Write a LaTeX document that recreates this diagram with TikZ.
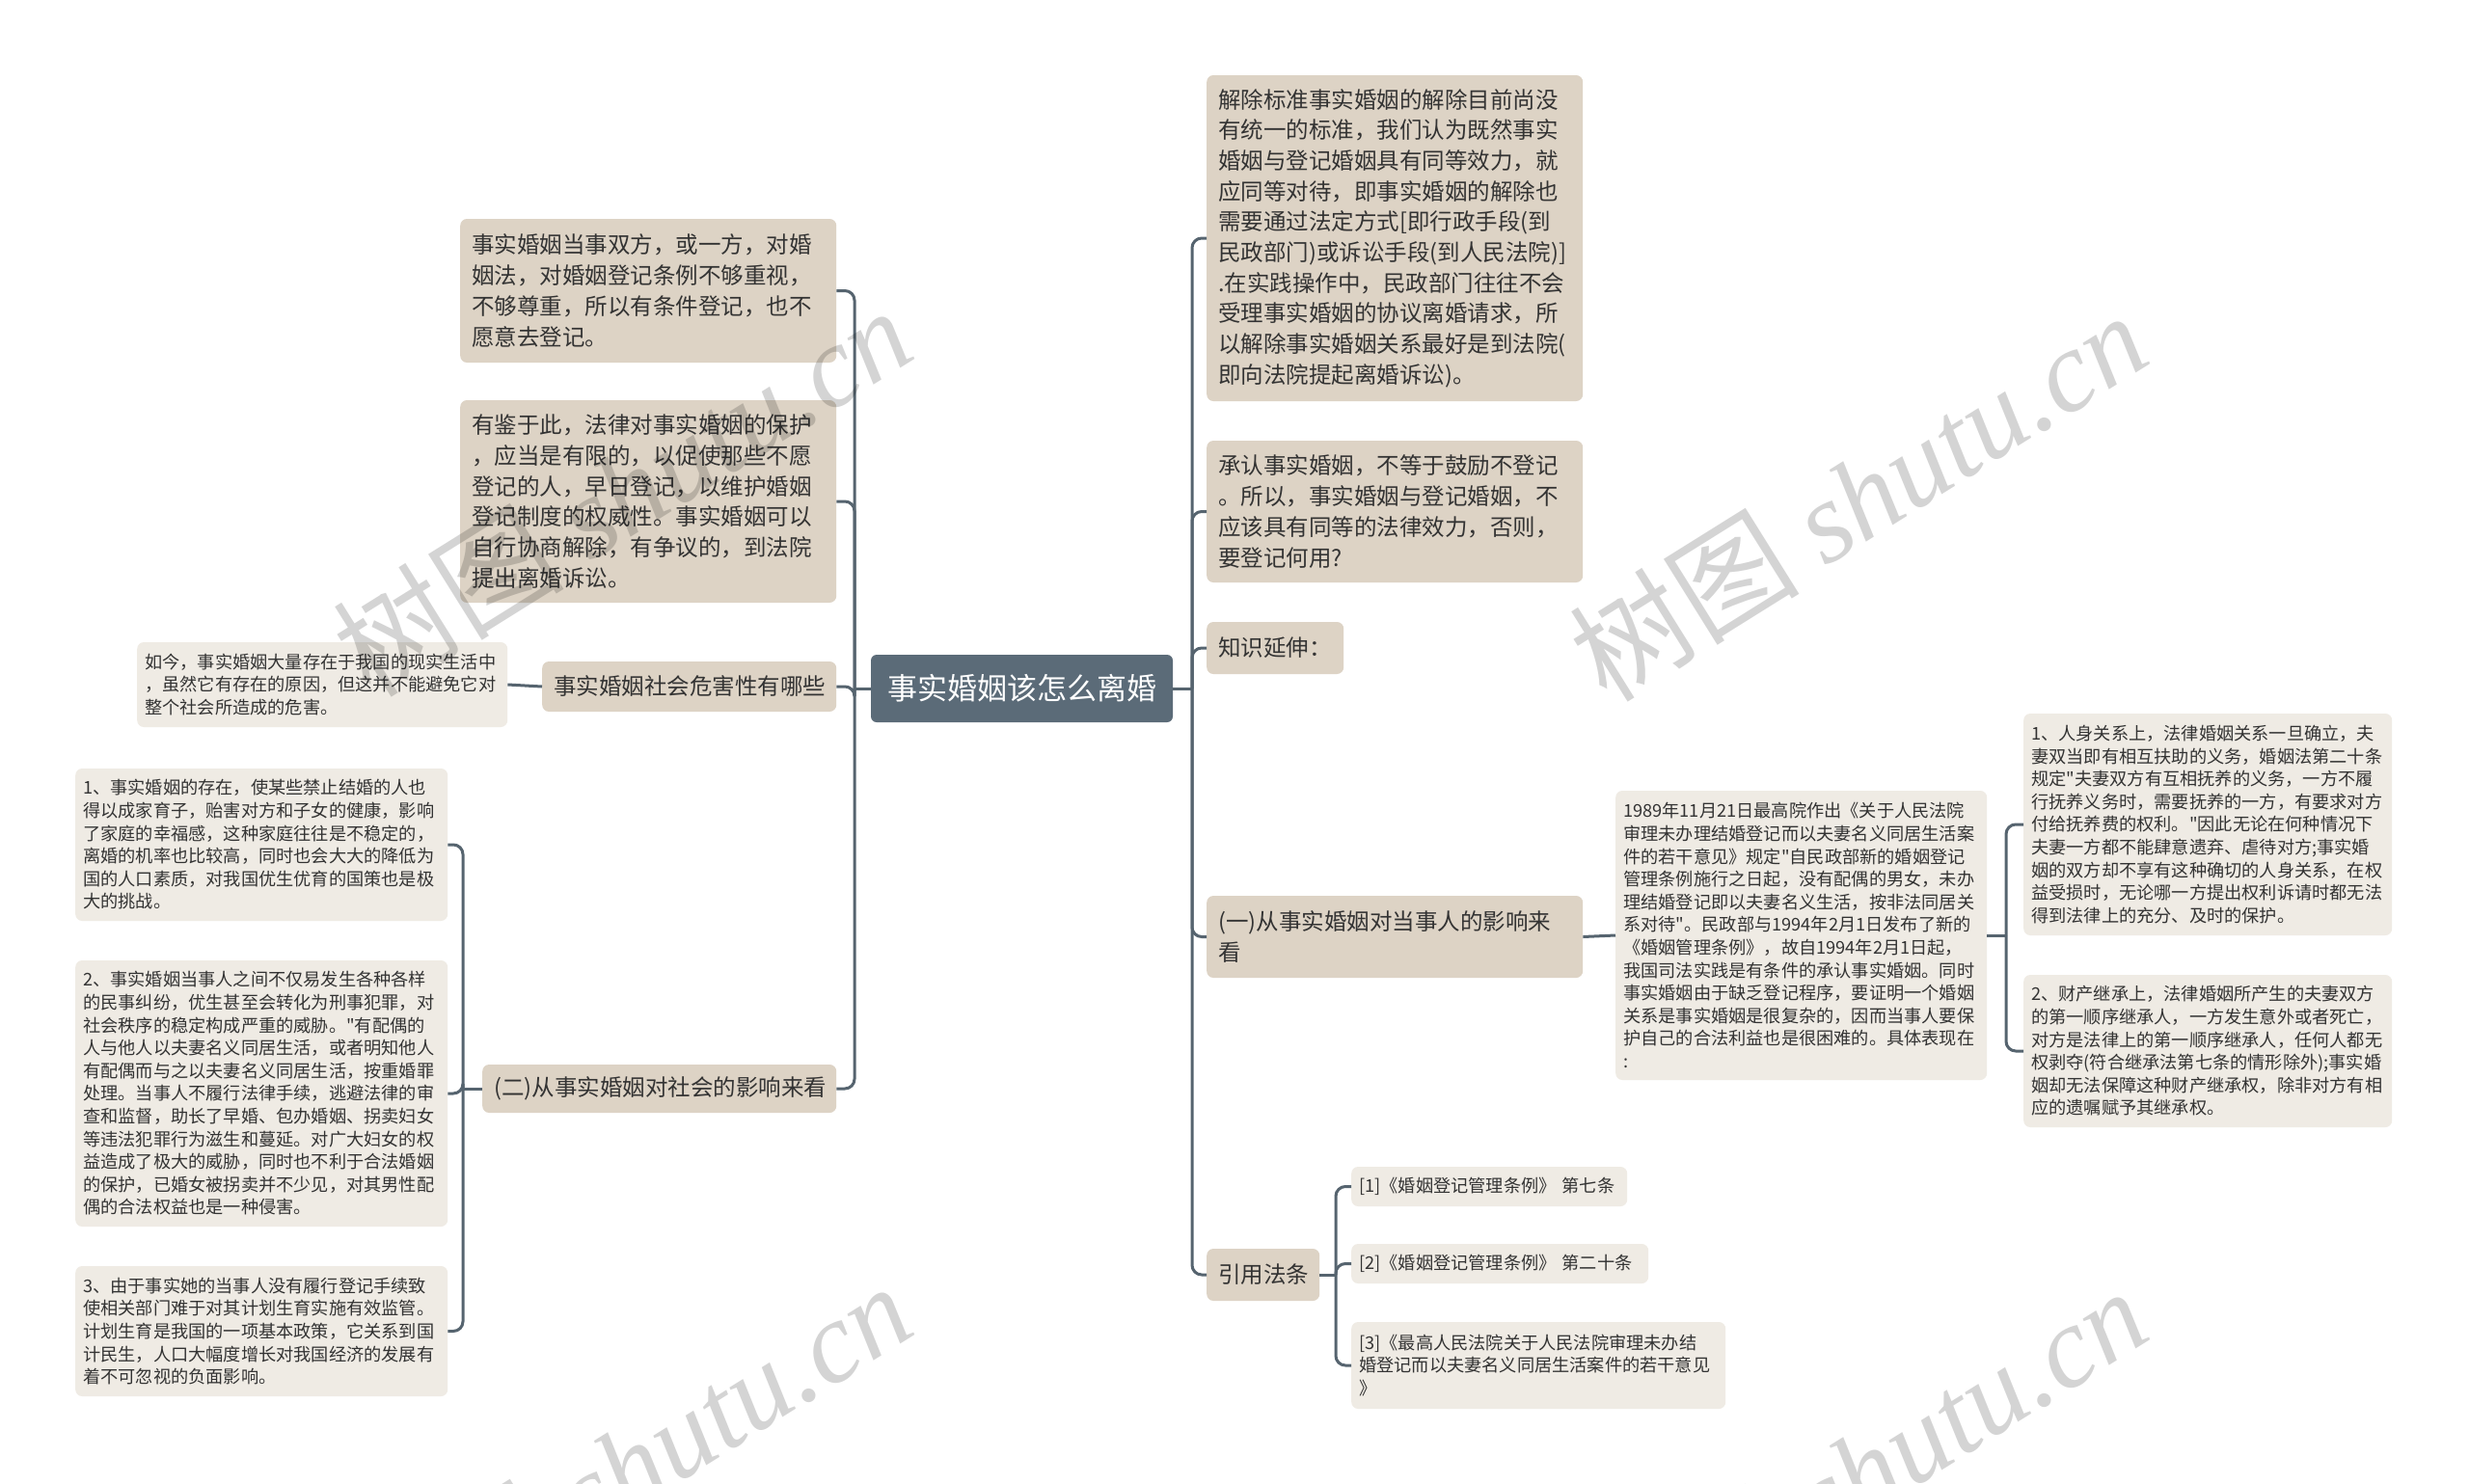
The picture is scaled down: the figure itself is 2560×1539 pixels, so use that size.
\documentclass[tikz,border=0pt]{standalone}
\usepackage{fontspec}
\setmainfont{Noto Sans CJK SC}[Ligatures=TeXOff]
\newfontfamily\wmfont{Liberation Serif}
\usetikzlibrary{calc}
\definecolor{rootc}{HTML}{5B6B78}
\definecolor{mainc}{HTML}{DDD3C5}
\definecolor{leafc}{HTML}{EFEBE4}
\definecolor{linec}{HTML}{56646F}
\definecolor{txtc}{HTML}{333333}
\tikzset{
  rootbox/.style={fill=rootc, text=white, rounded corners=6pt, inner sep=0pt,
    font=\fontsize{31}{38}\selectfont, anchor=center},
  mainbox/.style={fill=mainc, text=txtc, rounded corners=7pt, inner xsep=12pt, inner ysep=3pt,
    align=left, anchor=west, font=\fontsize{23.5}{31.7}\selectfont},
  leafbox/.style={fill=leafc, text=txtc, rounded corners=7pt, inner xsep=8pt, inner ysep=3pt,
    align=left, anchor=west, font=\fontsize{18.2}{23.6}\selectfont},
  conn/.style={draw=linec, line width=3pt, rounded corners=10pt},
  wmark/.style={text=black, opacity=0.17, rotate=32, inner sep=0pt,
    font=\fontsize{120}{120}\selectfont}
}
\begin{document}
\begin{tikzpicture}[x=1pt,y=-1pt]
\useasboundingbox[fill=white] (0,0) rectangle (2560,1539);

% root
\node[rootbox, minimum width=313pt, minimum height=70pt] (root) at (1059.5,714) {事实婚姻该怎么离婚};

% left level 1
\node[mainbox, minimum width=390pt, text width=366pt, minimum height=149pt] (L1) at (477,301.5) {事实婚姻当事双方，或一方，对婚\\姻法，对婚姻登记条例不够重视，\\不够尊重，所以有条件登记，也不\\愿意去登记。};
\node[mainbox, minimum width=390pt, text width=366pt, minimum height=210pt] (L2) at (477,520) {有鉴于此，法律对事实婚姻的保护\\，应当是有限的，以促使那些不愿\\登记的人，早日登记，以维护婚姻\\登记制度的权威性。事实婚姻可以\\自行协商解除，有争议的，到法院\\提出离婚诉讼。};
\node[mainbox, minimum width=305pt, text width=281pt, minimum height=52pt] (L3) at (562,712) {事实婚姻社会危害性有哪些};
\node[leafbox, minimum width=384pt, text width=368pt, minimum height=88pt] (L3a) at (142,710) {如今，事实婚姻大量存在于我国的现实生活中\\，虽然它有存在的原因，但这并不能避免它对\\整个社会所造成的危害。};
\node[mainbox, minimum width=367pt, text width=343pt, minimum height=50pt] (L4) at (500,1129) {(二)从事实婚姻对社会的影响来看};
\node[leafbox, minimum width=386pt, text width=370pt, minimum height=158pt] (L4a) at (78,876) {1、事实婚姻的存在，使某些禁止结婚的人也\\得以成家育子，贻害对方和子女的健康，影响\\了家庭的幸福感，这种家庭往往是不稳定的，\\离婚的机率也比较高，同时也会大大的降低为\\国的人口素质，对我国优生优育的国策也是极\\大的挑战。};
\node[leafbox, minimum width=386pt, text width=370pt, minimum height=276pt] (L4b) at (78,1134) {2、事实婚姻当事人之间不仅易发生各种各样\\的民事纠纷，优生甚至会转化为刑事犯罪，对\\社会秩序的稳定构成严重的威胁。"有配偶的\\人与他人以夫妻名义同居生活，或者明知他人\\有配偶而与之以夫妻名义同居生活，按重婚罪\\处理。当事人不履行法律手续，逃避法律的审\\查和监督，助长了早婚、包办婚姻、拐卖妇女\\等违法犯罪行为滋生和蔓延。对广大妇女的权\\益造成了极大的威胁，同时也不利于合法婚姻\\的保护，已婚女被拐卖并不少见，对其男性配\\偶的合法权益也是一种侵害。};
\node[leafbox, minimum width=386pt, text width=370pt, minimum height=135pt] (L4c) at (78,1380.5) {3、由于事实她的当事人没有履行登记手续致\\使相关部门难于对其计划生育实施有效监管。\\计划生育是我国的一项基本政策，它关系到国\\计民生，人口大幅度增长对我国经济的发展有\\着不可忽视的负面影响。};

% right level 1
\node[mainbox, minimum width=390pt, text width=366pt, minimum height=338pt] (R1) at (1251,247) {解除标准事实婚姻的解除目前尚没\\有统一的标准，我们认为既然事实\\婚姻与登记婚姻具有同等效力，就\\应同等对待，即事实婚姻的解除也\\需要通过法定方式[即行政手段(到\\民政部门)或诉讼手段(到人民法院)]\\.在实践操作中，民政部门往往不会\\受理事实婚姻的协议离婚请求，所\\以解除事实婚姻关系最好是到法院(\\即向法院提起离婚诉讼)。};
\node[mainbox, minimum width=390pt, text width=366pt, minimum height=147pt] (R2) at (1251,530.5) {承认事实婚姻，不等于鼓励不登记\\。所以，事实婚姻与登记婚姻，不\\应该具有同等的法律效力，否则，\\要登记何用?};
\node[mainbox, minimum width=142pt, text width=118pt, minimum height=54pt] (R3) at (1251,672) {知识延伸：};
\node[mainbox, minimum width=390pt, text width=366pt, minimum height=85pt] (R4) at (1251,971.5) {(一)从事实婚姻对当事人的影响来\\看};
\node[leafbox, minimum width=385pt, text width=369pt, minimum height=300pt] (R4a) at (1675,970) {1989年11月21日最高院作出《关于人民法院\\审理未办理结婚登记而以夫妻名义同居生活案\\件的若干意见》规定"自民政部新的婚姻登记\\管理条例施行之日起，没有配偶的男女，未办\\理结婚登记即以夫妻名义生活，按非法同居关\\系对待"。民政部与1994年2月1日发布了新的\\《婚姻管理条例》，故自1994年2月1日起，\\我国司法实践是有条件的承认事实婚姻。同时\\事实婚姻由于缺乏登记程序，要证明一个婚姻\\关系是事实婚姻是很复杂的，因而当事人要保\\护自己的合法利益也是很困难的。具体表现在\\:};
\node[leafbox, minimum width=382pt, text width=366pt, minimum height=230pt] (R4a1) at (2098,855) {1、人身关系上，法律婚姻关系一旦确立，夫\\妻双当即有相互扶助的义务，婚姻法第二十条\\规定"夫妻双方有互相抚养的义务，一方不履\\行抚养义务时，需要抚养的一方，有要求对方\\付给抚养费的权利。"因此无论在何种情况下\\夫妻一方都不能肆意遗弃、虐待对方;事实婚\\姻的双方却不享有这种确切的人身关系，在权\\益受损时，无论哪一方提出权利诉请时都无法\\得到法律上的充分、及时的保护。};
\node[leafbox, minimum width=382pt, text width=366pt, minimum height=158pt] (R4a2) at (2098,1090) {2、财产继承上，法律婚姻所产生的夫妻双方\\的第一顺序继承人，一方发生意外或者死亡，\\对方是法律上的第一顺序继承人，任何人都无\\权剥夺(符合继承法第七条的情形除外);事实婚\\姻却无法保障这种财产继承权，除非对方有相\\应的遗嘱赋予其继承权。};
\node[mainbox, minimum width=117pt, text width=93pt, minimum height=54pt] (R5) at (1251,1322) {引用法条};
\node[leafbox, minimum width=286pt, text width=270pt, minimum height=41pt] (R5a) at (1401,1230.5) {[1]《婚姻登记管理条例》 第七条};
\node[leafbox, minimum width=308pt, text width=292pt, minimum height=41pt] (R5b) at (1401,1310.5) {[2]《婚姻登记管理条例》 第二十条};
\node[leafbox, minimum width=388pt, text width=372pt, minimum height=90pt] (R5c) at (1401,1416) {[3]《最高人民法院关于人民法院审理未办结\\婚登记而以夫妻名义同居生活案件的若干意见\\》};

% spine coordinates
\coordinate (ls) at (886,714);
\coordinate (rs) at (1236,714);
\coordinate (l4s) at (480,1129);
\coordinate (r4s) at (2080,970);
\coordinate (r5s) at (1385,1322);

% connectors
\draw[conn] (root.west) -- (ls);
\foreach \n in {L1,L2,L3,L4} \draw[conn] (ls) |- (\n.east);
\draw[conn] (root.east) -- (rs);
\foreach \n in {R1,R2,R3,R4,R5} \draw[conn] (rs) |- (\n.west);
\draw[conn] (L3.west) -- (L3a.east);
\draw[conn] (L4.west) -- (l4s);
\foreach \n in {L4a,L4b,L4c} \draw[conn] (l4s) |- (\n.east);
\draw[conn] (R4.east) -- (R4a.west);
\draw[conn] (R4a.east) -- (r4s);
\foreach \n in {R4a1,R4a2} \draw[conn] (r4s) |- (\n.west);
\draw[conn] (R5.east) -- (r5s);
\foreach \n in {R5a,R5b,R5c} \draw[conn] (r5s) |- (\n.west);

% watermarks
\begin{scope}
\clip (0,0) rectangle (2560,1539);
\node[wmark] (w1) at (645,509) {\itshape 树图 {\wmfont shutu.cn}};
\node[wmark] (w2) at (1926,514) {\itshape 树图 {\wmfont shutu.cn}};
\node[wmark] (w3) at (645,1521) {\itshape 树图 {\wmfont shutu.cn}};
\node[wmark] (w4) at (1926,1526) {\itshape 树图 {\wmfont shutu.cn}};
\end{scope}
\end{tikzpicture}
\end{document}
